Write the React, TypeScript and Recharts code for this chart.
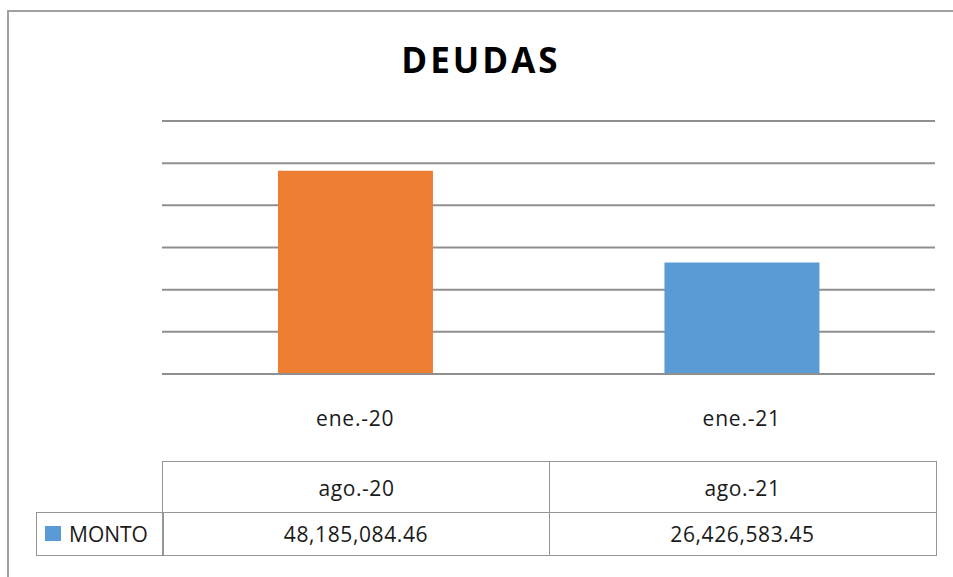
import { BarChart, Bar, Cell, XAxis, YAxis, CartesianGrid } from "recharts";

// Deudas: dos barras con tabla de datos debajo (estilo Excel).

const CATEGORIES = ["ene.-20", "ene.-21"];
const TABLE_HEADERS = ["ago.-20", "ago.-21"];
const MONTO = [48185084.46, 26426583.45];
const COLORS = ["#ED7D31", "#5B9BD5"];
const Y_TICKS = [0, 10000000, 20000000, 30000000, 40000000, 50000000, 60000000];

const W = 953;
const H = 577;
const PLOT = { left: 162, right: 935, top: 121, bottom: 374 };
const X_AXIS_H = 30;
const GRID = "#8f8f8f";
const FONT = "'Open Sans', 'Noto Sans', sans-serif";

const data = CATEGORIES.map((c, i) => ({ cat: c, monto: MONTO[i] }));

const fmt = (v: number) =>
  v.toLocaleString("en-US", { minimumFractionDigits: 2, maximumFractionDigits: 2 });

function CatTick(props: any) {
  const { x, payload } = props;
  return (
    <text
      x={x}
      y={PLOT.bottom + 52}
      textAnchor="middle"
      fill="#1a1a1a"
      fontSize={21}
      fontFamily={FONT}
      letterSpacing={0.8}
    >
      {payload.value}
    </text>
  );
}

export default function App() {
  const band = (PLOT.right - PLOT.left) / CATEGORIES.length;
  const cellBorder = `1.5px solid #969696`;
  const cellText = {
    position: "absolute" as const,
    display: "flex",
    alignItems: "center",
    justifyContent: "center",
    fontSize: 21,
    color: "#1a1a1a",
    letterSpacing: 0.6,
    boxSizing: "border-box" as const,
  };

  return (
    <div
      style={{
        position: "absolute",
        left: 0,
        top: 0,
        width: W,
        height: H,
        overflow: "hidden",
        background: "#fff",
        fontFamily: FONT,
      }}
    >
      {/* marco del gráfico: solo se ven los bordes superior e izquierdo */}
      <div
        style={{
          position: "absolute",
          left: 7,
          top: 10,
          right: 0,
          bottom: 0,
          borderTop: "2px solid #a0a0a0",
          borderLeft: "2px solid #a0a0a0",
        }}
      />
      <div
        style={{
          position: "absolute",
          left: 0,
          width: W,
          top: 36,
          textAlign: "center",
          fontSize: 35,
          fontWeight: 700,
          letterSpacing: 3,
          color: "#000",
          paddingLeft: 9,
          boxSizing: "border-box",
        }}
      >
        DEUDAS
      </div>

      <div style={{ position: "absolute", left: 0, top: 0 }}>
        <BarChart
          width={W}
          height={H}
          data={data}
          margin={{
            top: PLOT.top,
            bottom: H - PLOT.bottom - X_AXIS_H,
            left: PLOT.left,
            right: W - PLOT.right,
          }}
          barCategoryGap="30%"
        >
          <CartesianGrid vertical={false} stroke={GRID} strokeWidth={2} />
          <YAxis hide width={0} domain={[0, 60000000]} ticks={Y_TICKS} />
          <XAxis
            dataKey="cat"
            height={X_AXIS_H}
            axisLine={{ stroke: GRID, strokeWidth: 2 }}
            tickLine={false}
            tick={<CatTick />}
          />
          <Bar dataKey="monto" isAnimationActive={false}>
            {data.map((d, i) => (
              <Cell key={d.cat} fill={COLORS[i]} />
            ))}
          </Bar>
        </BarChart>
      </div>

      {/* tabla de datos */}
      {TABLE_HEADERS.map((h, i) => (
        <div
          key={h}
          style={{
            ...cellText,
            left: PLOT.left + band * i,
            top: 461,
            width: band + 1.5,
            height: 52,
            borderTop: cellBorder,
            borderLeft: cellBorder,
            borderRight: i === TABLE_HEADERS.length - 1 ? cellBorder : undefined,
          }}
        >
          {h}
        </div>
      ))}
      <div
        style={{
          ...cellText,
          left: 36,
          top: 511.5,
          width: PLOT.left - 36 + 1.5,
          height: 44,
          border: cellBorder,
          justifyContent: "flex-start",
          paddingLeft: 8,
          letterSpacing: 0,
        }}
      >
        <span
          style={{
            display: "inline-block",
            width: 16,
            height: 15,
            background: COLORS[1],
            marginRight: 8,
          }}
        />
        MONTO
      </div>
      {MONTO.map((v, i) => (
        <div
          key={i}
          style={{
            ...cellText,
            left: PLOT.left + band * i,
            top: 511.5,
            width: band + 1.5,
            height: 44,
            border: cellBorder,
          }}
        >
          {fmt(v)}
        </div>
      ))}
    </div>
  );
}
